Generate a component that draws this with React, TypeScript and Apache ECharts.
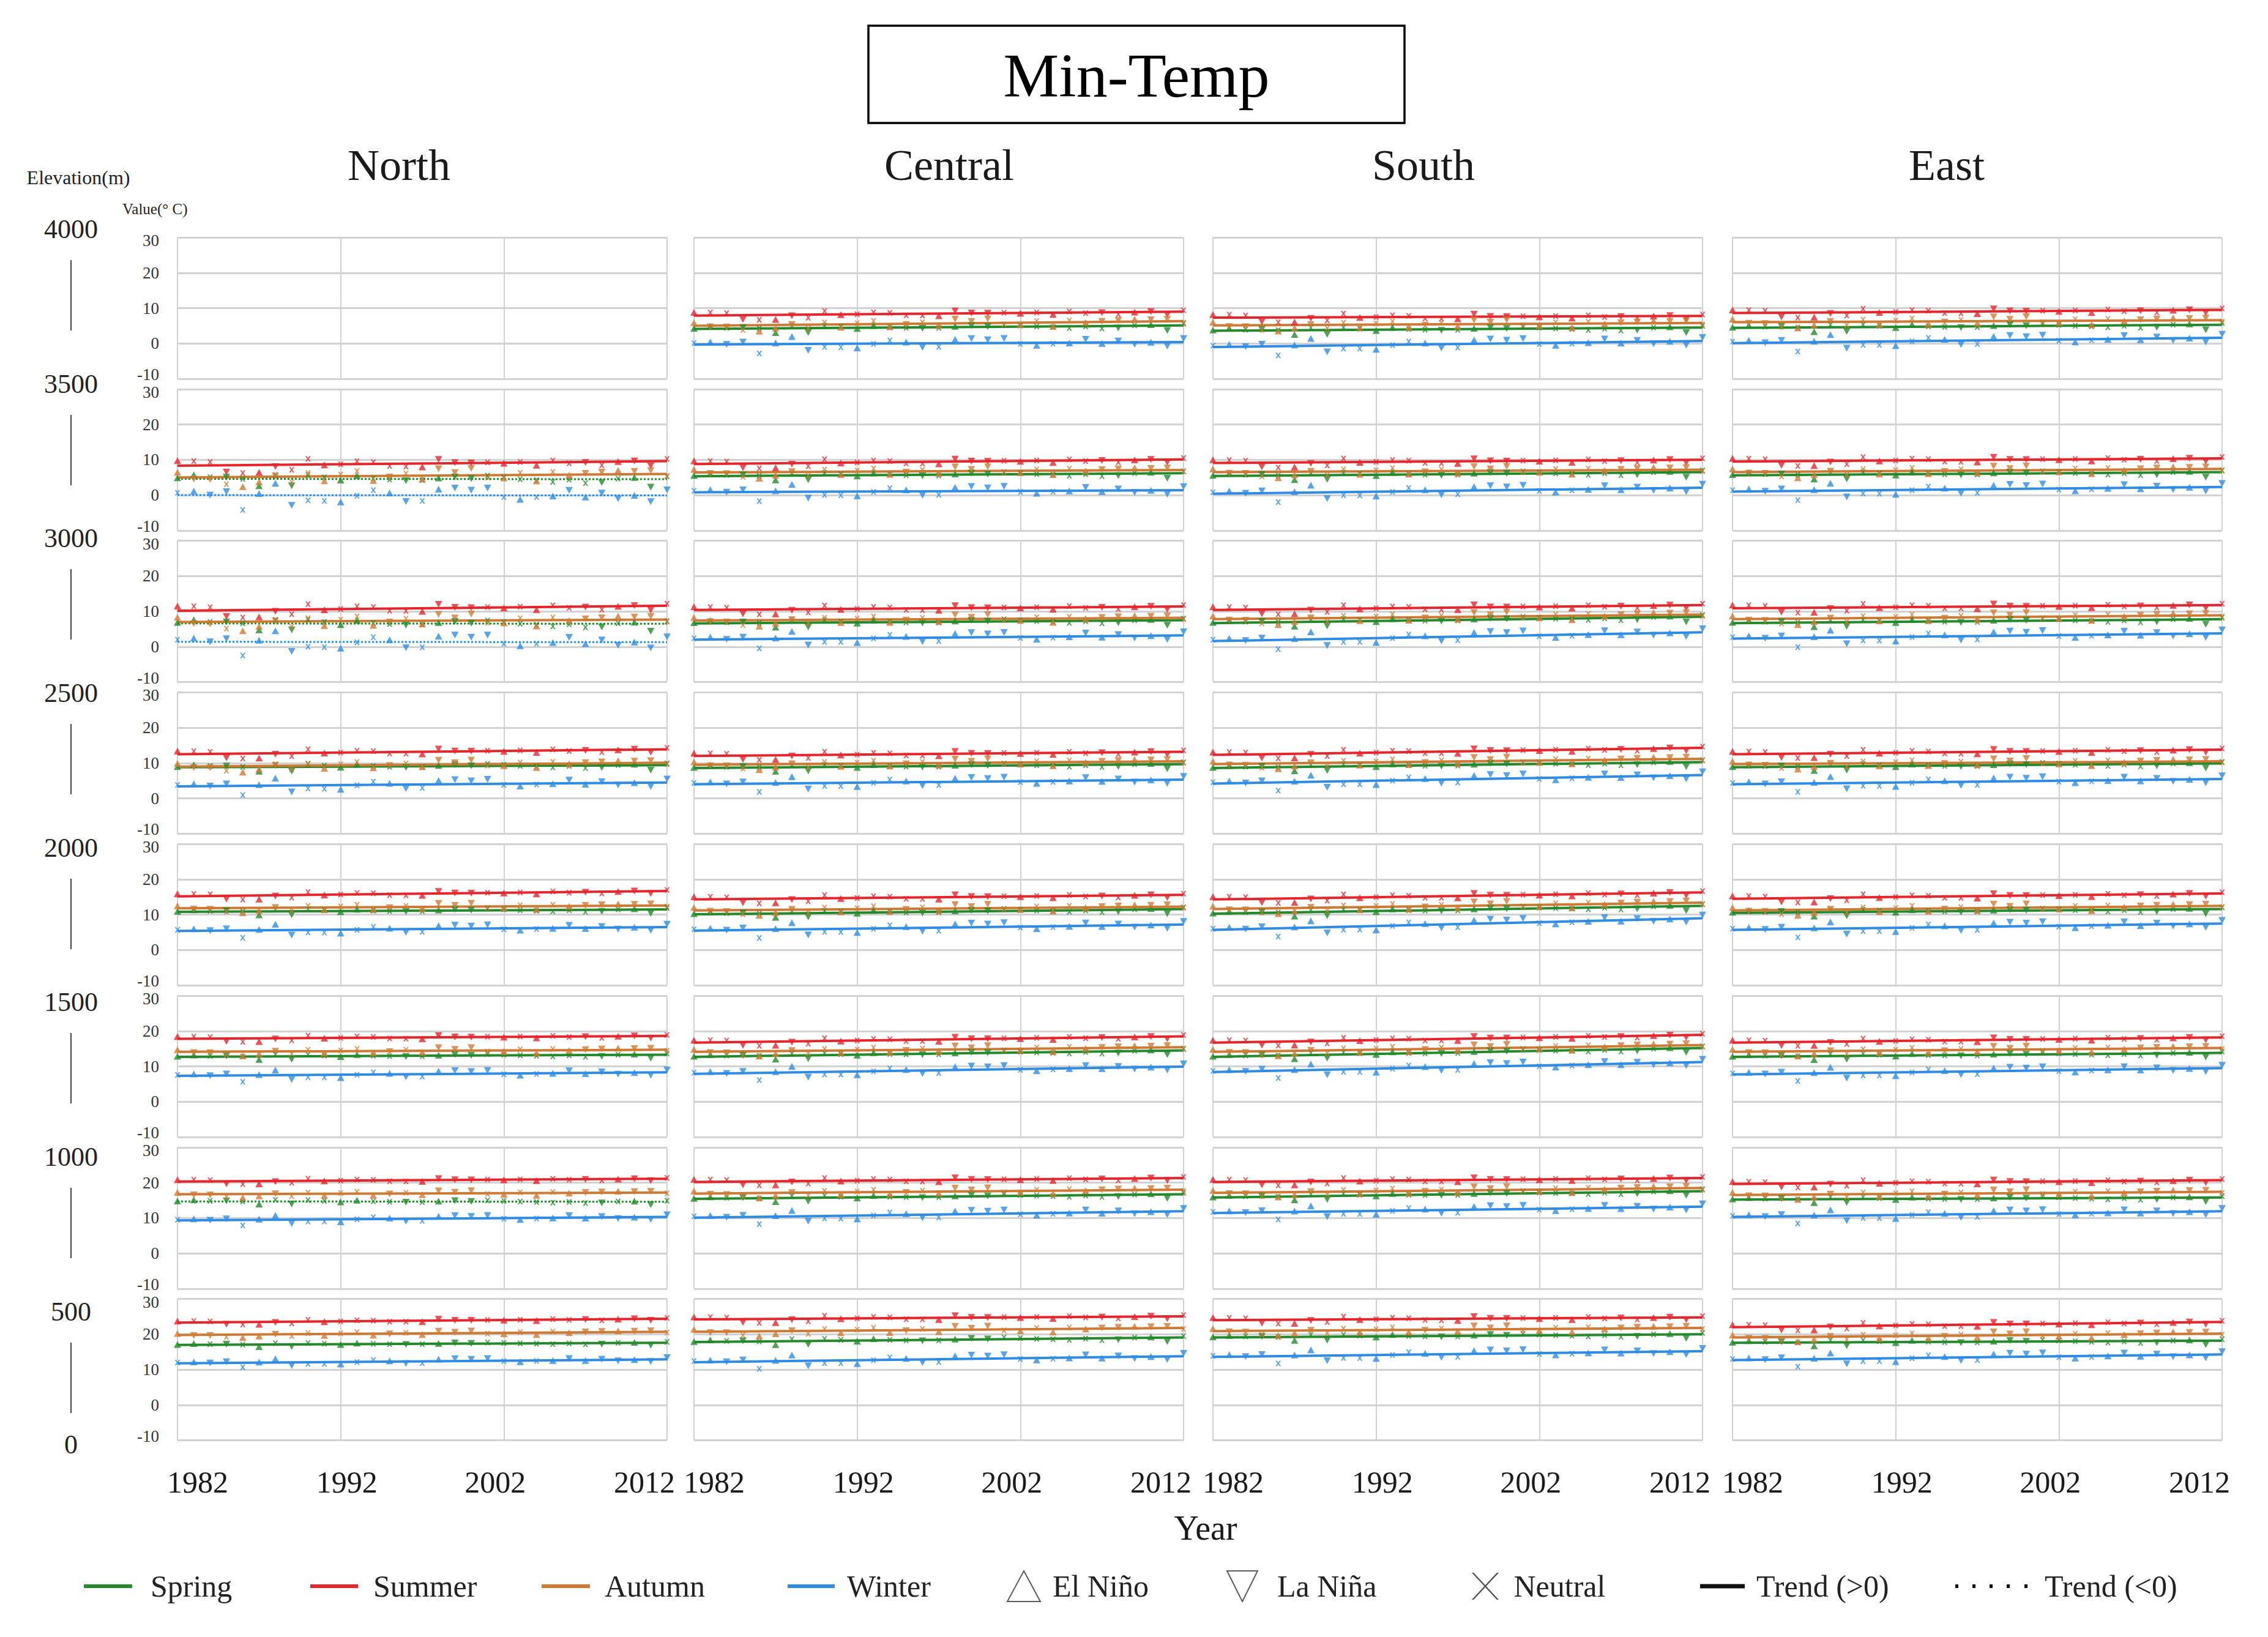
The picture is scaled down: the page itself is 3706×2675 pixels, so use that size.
import React, { useEffect, useRef } from "react";
import * as echarts from "echarts";

const FONT = '"Liberation Serif", "Times New Roman", "DejaVu Serif", serif';

// ---------- data ----------
const YEARS = [
  1982, 1983, 1984, 1985, 1986, 1987, 1988, 1989, 1990, 1991,
  1992, 1993, 1994, 1995, 1996, 1997, 1998, 1999, 2000, 2001,
  2002, 2003, 2004, 2005, 2006, 2007, 2008, 2009, 2010, 2011, 2012,
];
const X_TICKS = [1982, 1992, 2002, 2012];
const REGIONS = ["North", "Central", "South", "East"];
const ELEVATION_LABELS = ["4000", "3500", "3000", "2500", "2000", "1500", "1000", "500", "0"];
const BANDS = ["4000-3500m", "3500-3000m", "3000-2500m", "2500-2000m", "2000-1500m", "1500-1000m", "1000-500m", "500-0m"];
const SEASONS = ["Spring", "Summer", "Autumn", "Winter"];

// ENSO phase of each year per season: E = El Niño, L = La Niña, N = Neutral
const ENSO_SPRING = "EENLNENLNNEENNLNELLNNNNNNNLNELN";
const ENSO_SUMMER = "ENNLNELNNENNNNNELLLNENENNLNELLN";
const ENSO_AUTUMN = "ELLNEELNNENNELNELLLNENENELLELLN";
const ENSO_WINTER = "NELLNEELNNENNELNELLLNENELELLELL";

// year-by-year departures of the points from their trend line (°C)
const DEV_SPRING = [0.2, 0.7, 0.3, 0.3, 0.0, -1.2, 0.7, -1.2, 0.7, 0.3, -0.2, 0.6, 0.1, -0.1, -0.3, -0.2, 0.2, 0.4, 0.1, 0.6, 0.3, 0.0, -0.2, -0.5, -0.1, -0.7, -0.6, 0.1, 0.3, -1.4, 0.5];
const DEV_SUMMER = [0.9, 0.8, 0.6, -1.2, -1.4, -1.3, -0.3, -0.9, 1.0, -0.1, 0.0, 0.5, 0.3, -0.4, -0.5, -0.6, 0.7, 0.1, 0.0, 0.1, -0.1, 0.1, -0.5, 0.3, -0.2, -0.1, -0.6, 0.0, 0.1, -0.8, 0.4];
const DEV_AUTUMN = [0.9, -0.3, -0.4, -1.3, -1.7, -0.9, 0.1, -1.0, 0.6, -0.8, 0.3, 0.9, -0.8, -0.2, 0.4, -0.6, 1.2, 0.5, 1.2, -0.4, -0.5, 0.4, -1.1, 0.5, -0.1, 0.2, 0.4, 0.7, 0.5, 0.6, -0.4];
const DEV_WINTER = [0.4, 0.7, 0.0, 0.6, -2.6, 0.3, 2.1, -1.8, -0.9, -1.0, -1.2, -0.1, 0.9, 0.4, -1.1, -1.0, 1.1, 1.3, 0.9, 1.3, -0.3, -0.7, -0.3, -0.1, 0.9, -0.3, 0.4, -0.6, 0.0, -1.1, 1.0];

// trend line [1982 value, 2012 value] per elevation band (top band first)
const NORTH_SPRING = [null, [4.6, 4.5], [6.6, 6.5], [8.8, 9.4], [10.8, 11.5], [12.7, 13.3], [14.7, 14.6], [17.0, 17.6]];
const NORTH_SUMMER = [null, [8.3, 9.6], [10.2, 11.6], [12.5, 13.9], [15.2, 16.7], [17.8, 18.6], [20.3, 21.1], [23.3, 24.4]];
const NORTH_AUTUMN = [null, [5.0, 6.0], [7.0, 7.7], [9.0, 10.1], [11.8, 12.6], [14.1, 14.7], [16.7, 17.2], [19.8, 20.7]];
const NORTH_WINTER = [null, [0.0, -0.1], [1.4, 1.3], [3.4, 4.5], [5.4, 6.5], [7.3, 8.3], [9.3, 10.3], [11.8, 12.9]];

const CENTRAL_SPRING = [[4.1, 5.1], [5.35, 6.2], [6.6, 7.5], [8.6, 9.7], [10.1, 11.6], [12.7, 14.5], [15.4, 16.7], [17.8, 19.1]];
const CENTRAL_SUMMER = [[7.9, 9.0], [8.8, 10.1], [10.4, 11.4], [12.0, 13.2], [14.3, 15.6], [16.7, 18.5], [20.2, 21.3], [24.2, 25.1]];
const CENTRAL_AUTUMN = [[5.0, 6.3], [6.4, 7.1], [7.4, 8.2], [9.5, 10.5], [11.2, 12.3], [14.1, 15.4], [16.9, 18.0], [20.7, 21.8]];
const CENTRAL_WINTER = [[-0.3, 0.4], [0.8, 1.4], [2.0, 3.2], [4.0, 5.3], [5.5, 7.2], [7.9, 9.9], [10.1, 11.9], [12.1, 13.8]];

const SOUTH_SPRING = [[3.6, 4.5], [5.4, 6.5], [6.7, 8.5], [8.6, 10.3], [10.3, 12.5], [12.7, 15.2], [15.8, 17.6], [19.1, 20.0]];
const SOUTH_SUMMER = [[7.3, 7.8], [9.1, 10.0], [10.4, 11.8], [12.3, 14.3], [14.3, 16.3], [16.7, 18.9], [20.2, 21.3], [24.0, 24.8]];
const SOUTH_AUTUMN = [[5.1, 5.8], [6.5, 7.2], [7.8, 9.1], [9.7, 11.2], [11.6, 13.4], [14.1, 16.0], [17.1, 18.5], [20.9, 21.8]];
const SOUTH_WINTER = [[-1.0, 0.7], [0.4, 2.1], [1.6, 4.1], [4.2, 6.6], [5.7, 9.0], [8.4, 11.2], [11.4, 13.2], [13.6, 15.2]];

const EAST_SPRING = [[4.4, 5.3], [5.6, 6.5], [6.7, 7.8], [8.8, 9.9], [10.5, 11.6], [12.7, 13.8], [15.2, 15.8], [17.6, 18.2]];
const EAST_SUMMER = [[8.6, 9.5], [9.5, 10.4], [10.9, 11.8], [12.5, 13.8], [14.5, 16.0], [16.7, 18.2], [19.6, 20.7], [22.0, 23.5]];
const EAST_AUTUMN = [[6.0, 6.6], [6.5, 7.4], [7.8, 8.9], [9.7, 10.5], [11.2, 12.5], [14.1, 15.2], [16.5, 17.4], [19.1, 20.2]];
const EAST_WINTER = [[0.1, 1.6], [1.0, 2.3], [2.3, 3.8], [4.0, 5.5], [5.7, 7.5], [7.7, 9.5], [10.3, 11.9], [12.7, 14.3]];

// how widely the points scatter around the trend, per band (relative)
const NORTH_SPREAD = [0, 1.6, 1.5, 1.0, 0.8, 0.7, 0.6, 0.5];
const CENTRAL_SPREAD = [1, 1, 1, 0.9, 0.9, 0.8, 0.8, 0.8];
const SOUTH_SPREAD = [1, 1, 1, 0.9, 0.9, 0.8, 0.8, 0.8];
const EAST_SPREAD = [1, 1, 1, 0.9, 0.9, 0.8, 0.8, 0.8];

const LEGEND_ITEMS = ["Spring", "Summer", "Autumn", "Winter", "El Niño", "La Niña", "Neutral", "Trend (>0)", "Trend (<0)"];

// ---------- styling / layout ----------
const SEASON_COLORS = ["#23892a", "#e5262d", "#cf7a34", "#2f8ce2"];
const COL_LEFT = [290, 1134, 1982, 2831];
const COL_W = 800;
const GRID_TOP = 388;
const ROW_PITCH = 247.8;
const GRID_H = 231;

const UP = "path://M5,0L10,10L0,10Z";
const DOWN = "path://M0,0L10,0L5,10Z";
const CROSS = "path://M0,0L2.6,0L10,10L7.4,10ZM7.4,0L10,0L2.6,10L0,10Z";
const CROSS_THIN = "path://M0,0L7,0L100,100L93,100ZM93,0L100,0L7,100L0,100Z";
const DOWN_BIG = "path://M0,0L100,0L50,100Z";
const DOTS = "path://M0,0h5v6h-5zM28,0h5v6h-5zM56,0h5v6h-5zM84,0h5v6h-5zM113,0h5v6h-5z";

const TRENDS = [
  [NORTH_SPRING, NORTH_SUMMER, NORTH_AUTUMN, NORTH_WINTER],
  [CENTRAL_SPRING, CENTRAL_SUMMER, CENTRAL_AUTUMN, CENTRAL_WINTER],
  [SOUTH_SPRING, SOUTH_SUMMER, SOUTH_AUTUMN, SOUTH_WINTER],
  [EAST_SPRING, EAST_SUMMER, EAST_AUTUMN, EAST_WINTER],
];
const SPREADS = [NORTH_SPREAD, CENTRAL_SPREAD, SOUTH_SPREAD, EAST_SPREAD];
const ENSO = [ENSO_SPRING, ENSO_SUMMER, ENSO_AUTUMN, ENSO_WINTER];
const DEVS = [DEV_SPRING, DEV_SUMMER, DEV_AUTUMN, DEV_WINTER];

function buildOption(): any {
  const grids: any[] = [];
  const xAxes: any[] = [];
  const yAxes: any[] = [];
  const series: any[] = [];
  const first = YEARS[0];
  const last = YEARS[YEARS.length - 1];
  const rich: any = {};
  const pads = [[0, 0, 0, 66], [0, 0, 0, 20], [0, 28, 0, 0], [0, 74, 0, 0]];
  X_TICKS.forEach((_, k) => {
    rich["t" + k] = { fontSize: 50, fontFamily: FONT, color: "#1a1a1a", padding: pads[k] };
  });
  const yRich = {
    lo: { fontSize: 27, lineHeight: 27, fontFamily: FONT, color: "#333", padding: [0, 0, 14, 0] },
    hi: { fontSize: 27, lineHeight: 27, fontFamily: FONT, color: "#333", padding: [10, 0, 0, 0] },
    mid: { fontSize: 27, lineHeight: 27, fontFamily: FONT, color: "#333" },
  };

  let gi = 0;
  for (let c = 0; c < REGIONS.length; c++) {
    for (let r = 0; r < BANDS.length; r++) {
      grids.push({
        left: COL_LEFT[c],
        top: GRID_TOP + r * ROW_PITCH,
        width: COL_W,
        height: GRID_H,
        containLabel: false,
        outerBoundsMode: "none",
      });
      xAxes.push({
        gridIndex: gi,
        type: "value",
        min: first,
        max: last,
        interval: 10,
        axisLine: { show: false },
        axisTick: { show: false },
        splitLine: { show: true, lineStyle: { color: "#d2d2d2", width: 2 } },
        axisLabel:
          r === BANDS.length - 1
            ? {
                show: true,
                margin: 43,
                formatter: (v: number) => {
                  const k = X_TICKS.indexOf(v);
                  return k >= 0 ? `{t${k}|${v}}` : "";
                },
                rich,
              }
            : { show: false },
      });
      yAxes.push({
        gridIndex: gi,
        type: "value",
        min: -10,
        max: 30,
        interval: 10,
        axisLine: { show: false },
        axisTick: { show: false },
        splitLine: { show: true, lineStyle: { color: "#d2d2d2", width: 3 } },
        axisLabel:
          c === 0
            ? {
                show: true,
                margin: 30,
                formatter: (v: number) => (v === -10 ? `{lo|${v}}` : v === 30 ? `{hi|${v}}` : `{mid|${v}}`),
                rich: yRich,
              }
            : { show: false },
      });
      for (let s = 0; s < SEASONS.length; s++) {
        const tr = TRENDS[c][s][r] as number[] | null;
        if (!tr) continue;
        const [a, b] = tr;
        const color = SEASON_COLORS[s];
        const falling = b < a;
        const label = `${REGIONS[c]} ${BANDS[r]} ${SEASONS[s]}`;
        series.push({
          type: "line",
          name: label + " trend",
          xAxisIndex: gi,
          yAxisIndex: gi,
          data: [
            [first, a],
            [last, b],
          ],
          symbol: "none",
          silent: true,
          z: 2,
          lineStyle: { color, width: falling ? 3 : 4, type: falling ? [3, 3] : "solid" },
          itemStyle: { color },
        });
        const data = YEARS.map((yr, k) => {
          const base = a + ((b - a) * (yr - first)) / (last - first);
          const v = +(base + SPREADS[c][r] * DEVS[s][k]).toFixed(2);
          const e = ENSO[s][k];
          return {
            value: [yr, v],
            symbol: e === "E" ? UP : e === "L" ? DOWN : CROSS,
            symbolSize: e === "N" ? [9, 9] : [12, 11],
          };
        });
        series.push({
          type: "scatter",
          name: label,
          xAxisIndex: gi,
          yAxisIndex: gi,
          data,
          itemStyle: { color },
          z: 3,
        });
      }
      gi++;
    }
  }

  // series that only feed the legend
  SEASONS.forEach((name, s) => {
    series.push({
      type: "line",
      name,
      data: [],
      symbol: "none",
      lineStyle: { color: SEASON_COLORS[s], width: 6 },
      itemStyle: { color: SEASON_COLORS[s] },
    });
  });
  ["El Niño", "La Niña", "Neutral"].forEach((name) => {
    series.push({
      type: "scatter",
      name,
      data: [],
      itemStyle: name === "Neutral" ? { color: "#222" } : { color: "#fff", borderColor: "#333", borderWidth: 2 },
    });
  });
  series.push({ type: "line", name: "Trend (>0)", data: [], symbol: "none", lineStyle: { color: "#111", width: 6 }, itemStyle: { color: "#111" } });
  series.push({ type: "line", name: "Trend (<0)", data: [], symbol: "none", lineStyle: { color: "#111", width: 5, type: [5, 19] }, itemStyle: { color: "#111" } });

  const legendPos = [
    { left: 137, w: 79, h: 6, gap: 30, icon: "rect", style: { color: SEASON_COLORS[0] } },
    { left: 507, w: 78, h: 6, gap: 25, icon: "rect", style: { color: SEASON_COLORS[1] } },
    { left: 885, w: 79, h: 6, gap: 24, icon: "rect", style: { color: SEASON_COLORS[2] } },
    { left: 1287, w: 77, h: 6, gap: 20, icon: "rect", style: { color: SEASON_COLORS[3] } },
    { left: 1645, w: 54, h: 50, gap: 20, icon: "triangle", style: { color: "#fff", borderColor: "#333", borderWidth: 2 } },
    { left: 2004, w: 54, h: 50, gap: 30, icon: DOWN_BIG, style: { color: "#fff", borderColor: "#333", borderWidth: 2 } },
    { left: 2405, w: 49, h: 44, gap: 22, icon: CROSS_THIN, style: { color: "#222" } },
    { left: 2778, w: 73, h: 7, gap: 19, icon: "rect", style: { color: "#111" } },
    { left: 3195, w: 118, h: 6, gap: 28, icon: DOTS, style: { color: "#111" } },
  ];
  const legends = LEGEND_ITEMS.map((name, i) => {
    const p: any = legendPos[i];
    const item: any = { name, icon: p.icon, itemStyle: p.style };
    return {
      data: [item],
      left: p.left,
      top: 2562,
      orient: "horizontal",
      padding: 0,
      itemWidth: p.w,
      itemHeight: p.h,
      selectedMode: false,
      textStyle: { fontSize: 50, fontFamily: FONT, color: "#222", lineHeight: 60, padding: [0, 0, 0, p.gap - 5] },
    };
  });

  const g: any[] = [];
  const text = (t: string, x: number, y: number, size: number, align = "center", fill = "#111") => ({
    type: "text",
    x,
    y,
    silent: true,
    style: {
      text: t,
      fontSize: size,
      fontFamily: FONT,
      fill,
      textAlign: align,
      textVerticalAlign: "middle",
      align,
      verticalAlign: "middle",
    },
  });
  g.push({
    type: "rect",
    shape: { x: 1419, y: 42, width: 876, height: 159 },
    style: { fill: "none", stroke: "#000", lineWidth: 3.5 },
    silent: true,
  });
  g.push(text("Min-Temp", 1857, 123, 102, "center", "#000"));
  const titleX = [652, 1551, 2326, 3181];
  REGIONS.forEach((name, c) => g.push(text(name, titleX[c], 270, 72, "center", "#1a1a1a")));
  g.push(text("Elevation(m)", 128, 290, 32, "center", "#222"));
  g.push(text("Value(° C)", 200, 341, 25, "left", "#222"));
  const elevY = [374, 627, 879, 1132, 1385, 1637, 1890, 2143, 2360];
  ELEVATION_LABELS.forEach((t, i) => {
    g.push(text(t, 116, elevY[i], 44, "center", "#222"));
    if (i < ELEVATION_LABELS.length - 1) {
      g.push({
        type: "line",
        silent: true,
        shape: { x1: 116, y1: elevY[i] + 51, x2: 116, y2: elevY[i] + 166 },
        style: { stroke: "#444", lineWidth: 2 },
      });
    }
  });
  g.push(text("Year", 1970, 2497, 56, "center", "#1a1a1a"));

  return {
    animation: false,
    backgroundColor: "#ffffff",
    textStyle: { fontFamily: FONT },
    grid: grids,
    xAxis: xAxes,
    yAxis: yAxes,
    legend: legends,
    series,
    graphic: { elements: g },
  };
}

export default function App() {
  const ref = useRef<HTMLDivElement>(null);
  useEffect(() => {
    if (!ref.current) return;
    const chart = echarts.init(ref.current, undefined, { renderer: "svg" });
    chart.setOption(buildOption());
    return () => {
      chart.dispose();
    };
  }, []);
  return (
    <div
      ref={ref}
      style={{ position: "fixed", left: 0, top: 0, width: 3706, height: 2675, background: "#fff" }}
    />
  );
}
